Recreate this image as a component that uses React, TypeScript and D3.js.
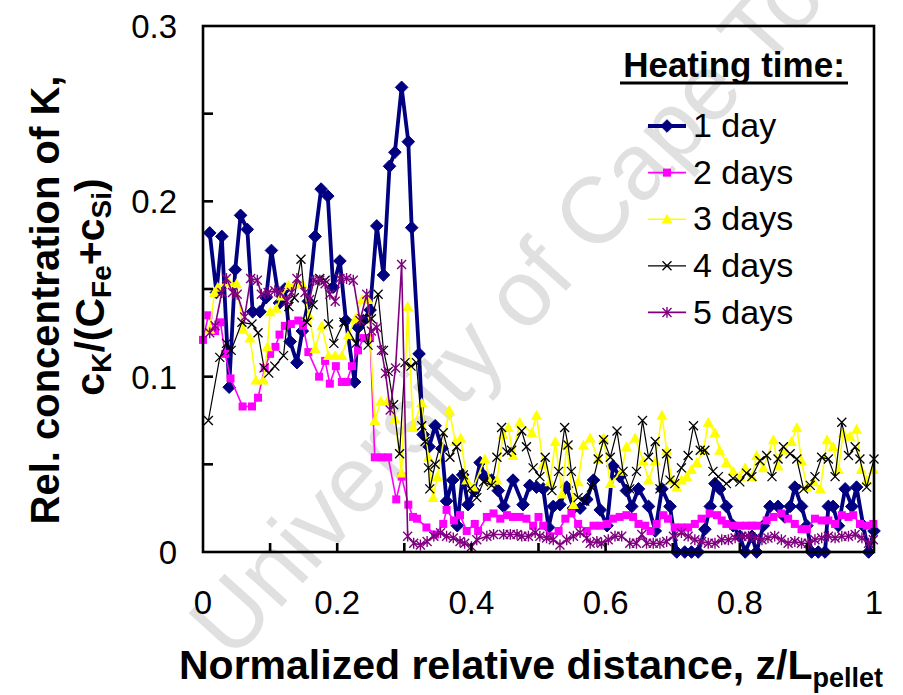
import React from 'react';
import * as d3 from 'd3';

const W = 903;
const H = 695;
const PLOT = { left: 203, right: 874, top: 26, bottom: 552 };

const seriesNames = ['1 day', '2 days', '3 days', '4 days', '5 days'];
const xTickValues = [0, 0.2, 0.4, 0.6, 0.8, 1];
const xTickLabels = ['0', '0.2', '0.4', '0.6', '0.8', '1'];
const xMinorTickValues = [0.1, 0.2, 0.3, 0.4, 0.5, 0.6, 0.7, 0.8, 0.9];
const yTickValues = [0, 0.1, 0.2, 0.3];
const yTickLabels = ['0', '0.1', '0.2', '0.3'];
const yMinorTickValues = [0.05, 0.1, 0.15, 0.2, 0.25];

// [normalized distance, relative concentration]
const day1: [number, number][] = [
  [0.010, 0.182], [0.020, 0.148], [0.028, 0.180], [0.039, 0.094], [0.048, 0.161], [0.056, 0.192],
  [0.066, 0.184], [0.074, 0.137], [0.085, 0.137], [0.094, 0.145], [0.102, 0.172], [0.114, 0.142],
  [0.122, 0.150], [0.130, 0.120], [0.140, 0.108], [0.148, 0.126], [0.157, 0.143], [0.167, 0.180],
  [0.176, 0.207], [0.186, 0.203], [0.194, 0.151], [0.204, 0.166], [0.213, 0.132], [0.226, 0.097],
  [0.231, 0.128], [0.239, 0.132], [0.249, 0.138], [0.259, 0.186], [0.269, 0.158], [0.278, 0.220],
  [0.286, 0.228], [0.296, 0.265], [0.306, 0.234], [0.311, 0.185], [0.322, 0.113], [0.328, 0.067],
  [0.337, 0.060], [0.346, 0.072], [0.356, 0.059], [0.363, 0.029], [0.372, 0.041], [0.379, 0.015],
  [0.387, 0.044], [0.395, 0.027], [0.404, 0.035], [0.413, 0.051], [0.420, 0.043], [0.430, 0.041],
  [0.440, 0.035], [0.448, 0.026], [0.462, 0.041], [0.477, 0.027], [0.487, 0.038], [0.497, 0.037],
  [0.507, 0.036], [0.515, 0.014], [0.522, 0.026], [0.532, 0.027], [0.542, 0.037], [0.552, 0.025],
  [0.562, 0.025], [0.572, 0.030], [0.582, 0.041], [0.592, 0.024], [0.602, 0.015], [0.611, 0.049],
  [0.621, 0.043], [0.631, 0.035], [0.639, 0.026], [0.649, 0.036], [0.664, 0.026], [0.674, 0.012],
  [0.684, 0.036], [0.696, 0.026], [0.706, 0.000], [0.718, 0.000], [0.728, 0.000], [0.738, 0.000],
  [0.748, 0.013], [0.756, 0.026], [0.763, 0.039], [0.770, 0.036], [0.780, 0.026], [0.790, 0.015],
  [0.800, 0.009], [0.808, 0.000], [0.818, 0.009], [0.825, 0.000], [0.835, 0.015], [0.845, 0.026],
  [0.857, 0.026], [0.867, 0.020], [0.875, 0.026], [0.882, 0.037], [0.892, 0.026], [0.900, 0.015],
  [0.907, 0.000], [0.917, 0.000], [0.927, 0.000], [0.932, 0.026], [0.939, 0.026], [0.947, 0.015],
  [0.957, 0.036], [0.967, 0.026], [0.974, 0.037], [0.984, 0.015], [0.992, 0.000], [1.000, 0.012],
];

const day2: [number, number][] = [
  [0.000, 0.121], [0.008, 0.135], [0.018, 0.126], [0.026, 0.131], [0.033, 0.113], [0.041, 0.099],
  [0.059, 0.083], [0.073, 0.083], [0.082, 0.088], [0.092, 0.105], [0.100, 0.113], [0.108, 0.117],
  [0.114, 0.124], [0.122, 0.129], [0.131, 0.130], [0.142, 0.132], [0.149, 0.129], [0.157, 0.114],
  [0.173, 0.100], [0.182, 0.109], [0.189, 0.096], [0.198, 0.106], [0.207, 0.097], [0.214, 0.097],
  [0.222, 0.106], [0.231, 0.115], [0.239, 0.122], [0.249, 0.122], [0.256, 0.054], [0.266, 0.054],
  [0.276, 0.054], [0.288, 0.030], [0.296, 0.043], [0.306, 0.027], [0.313, 0.020], [0.319, 0.019],
  [0.333, 0.014], [0.346, 0.010], [0.358, 0.016], [0.363, 0.024], [0.374, 0.018], [0.383, 0.021],
  [0.393, 0.012], [0.405, 0.016], [0.410, 0.012], [0.423, 0.020], [0.433, 0.022], [0.443, 0.019],
  [0.453, 0.021], [0.462, 0.020], [0.472, 0.020], [0.482, 0.019], [0.492, 0.015], [0.500, 0.020],
  [0.507, 0.015], [0.517, 0.009], [0.530, 0.012], [0.540, 0.019], [0.549, 0.022], [0.559, 0.016],
  [0.572, 0.012], [0.582, 0.015], [0.592, 0.015], [0.602, 0.016], [0.611, 0.019], [0.621, 0.020],
  [0.631, 0.021], [0.641, 0.020], [0.649, 0.016], [0.659, 0.015], [0.667, 0.012], [0.676, 0.016],
  [0.686, 0.021], [0.693, 0.019], [0.703, 0.014], [0.713, 0.014], [0.723, 0.014], [0.733, 0.016],
  [0.743, 0.019], [0.755, 0.022], [0.766, 0.021], [0.773, 0.018], [0.780, 0.016], [0.790, 0.015],
  [0.800, 0.015], [0.810, 0.015], [0.818, 0.015], [0.825, 0.015], [0.840, 0.018], [0.850, 0.020],
  [0.862, 0.022], [0.872, 0.019], [0.882, 0.016], [0.892, 0.013], [0.900, 0.013], [0.912, 0.019],
  [0.922, 0.018], [0.932, 0.018], [0.942, 0.016], [0.952, 0.021], [0.962, 0.020], [0.969, 0.021],
  [0.979, 0.016], [0.989, 0.015], [0.999, 0.016],
];

const day3: [number, number][] = [
  [0.010, 0.127], [0.017, 0.148], [0.022, 0.151], [0.038, 0.154], [0.050, 0.153], [0.060, 0.127],
  [0.070, 0.122], [0.079, 0.098], [0.090, 0.098], [0.096, 0.117], [0.100, 0.137], [0.109, 0.139],
  [0.117, 0.146], [0.127, 0.152], [0.138, 0.153], [0.148, 0.153], [0.158, 0.135], [0.167, 0.116],
  [0.177, 0.129], [0.187, 0.112], [0.197, 0.112], [0.207, 0.112], [0.217, 0.124], [0.227, 0.133],
  [0.237, 0.144], [0.246, 0.144], [0.256, 0.075], [0.265, 0.086], [0.275, 0.086], [0.286, 0.076],
  [0.296, 0.045], [0.305, 0.140], [0.313, 0.071], [0.326, 0.085], [0.336, 0.054], [0.343, 0.031],
  [0.349, 0.043], [0.367, 0.081], [0.376, 0.063], [0.384, 0.065], [0.393, 0.041], [0.403, 0.037],
  [0.420, 0.053], [0.428, 0.040], [0.438, 0.041], [0.447, 0.067], [0.455, 0.071], [0.462, 0.055],
  [0.472, 0.074], [0.490, 0.068], [0.497, 0.078], [0.507, 0.050], [0.517, 0.040], [0.525, 0.063],
  [0.535, 0.033], [0.542, 0.061], [0.552, 0.027], [0.559, 0.040], [0.567, 0.061], [0.577, 0.065],
  [0.589, 0.053], [0.597, 0.065], [0.607, 0.039], [0.624, 0.046], [0.631, 0.060], [0.644, 0.065],
  [0.656, 0.052], [0.664, 0.041], [0.674, 0.052], [0.684, 0.078], [0.691, 0.058], [0.699, 0.041],
  [0.706, 0.037], [0.713, 0.041], [0.721, 0.043], [0.728, 0.047], [0.736, 0.051], [0.746, 0.058],
  [0.753, 0.074], [0.763, 0.068], [0.770, 0.058], [0.780, 0.051], [0.790, 0.046], [0.800, 0.043],
  [0.808, 0.048], [0.818, 0.043], [0.825, 0.055], [0.835, 0.048], [0.850, 0.064], [0.857, 0.049],
  [0.865, 0.058], [0.877, 0.063], [0.885, 0.071], [0.892, 0.052], [0.900, 0.037], [0.910, 0.040],
  [0.920, 0.036], [0.930, 0.064], [0.939, 0.060], [0.947, 0.047], [0.954, 0.068], [0.964, 0.066],
  [0.974, 0.070], [0.981, 0.047], [0.989, 0.041], [0.999, 0.047],
];

const day4: [number, number][] = [
  [0.008, 0.075], [0.025, 0.111], [0.035, 0.119], [0.042, 0.115], [0.058, 0.131], [0.073, 0.130],
  [0.082, 0.125], [0.091, 0.105], [0.098, 0.102], [0.107, 0.106], [0.120, 0.112], [0.128, 0.140],
  [0.136, 0.145], [0.146, 0.167], [0.155, 0.131], [0.164, 0.141], [0.174, 0.156], [0.182, 0.155],
  [0.187, 0.130], [0.195, 0.119], [0.210, 0.131], [0.228, 0.119], [0.237, 0.133], [0.246, 0.118],
  [0.251, 0.133], [0.261, 0.147], [0.269, 0.115], [0.276, 0.103], [0.284, 0.084], [0.293, 0.056],
  [0.301, 0.108], [0.310, 0.106], [0.318, 0.108], [0.326, 0.072], [0.331, 0.063], [0.336, 0.048],
  [0.338, 0.036], [0.346, 0.050], [0.358, 0.068], [0.368, 0.054], [0.378, 0.060], [0.388, 0.044],
  [0.398, 0.036], [0.408, 0.031], [0.418, 0.040], [0.430, 0.038], [0.438, 0.054], [0.445, 0.071],
  [0.453, 0.057], [0.460, 0.058], [0.475, 0.069], [0.482, 0.060], [0.492, 0.048], [0.502, 0.043],
  [0.510, 0.054], [0.520, 0.035], [0.530, 0.046], [0.539, 0.071], [0.544, 0.061], [0.549, 0.046],
  [0.559, 0.031], [0.569, 0.029], [0.579, 0.037], [0.589, 0.053], [0.597, 0.064], [0.607, 0.054],
  [0.617, 0.069], [0.626, 0.046], [0.636, 0.036], [0.646, 0.046], [0.655, 0.075], [0.664, 0.054],
  [0.674, 0.063], [0.681, 0.036], [0.691, 0.056], [0.696, 0.041], [0.703, 0.039], [0.713, 0.048],
  [0.723, 0.055], [0.731, 0.072], [0.741, 0.058], [0.748, 0.058], [0.760, 0.046], [0.768, 0.043],
  [0.780, 0.039], [0.790, 0.042], [0.800, 0.040], [0.810, 0.045], [0.818, 0.043], [0.830, 0.052],
  [0.840, 0.055], [0.848, 0.043], [0.857, 0.053], [0.865, 0.060], [0.875, 0.056], [0.885, 0.053],
  [0.895, 0.036], [0.905, 0.038], [0.912, 0.043], [0.922, 0.054], [0.932, 0.053], [0.942, 0.043],
  [0.952, 0.074], [0.962, 0.055], [0.972, 0.060], [0.979, 0.053], [0.989, 0.037], [1.000, 0.053],
];

const day5: [number, number][] = [
  [0.010, 0.125], [0.018, 0.129], [0.028, 0.148], [0.035, 0.156], [0.044, 0.148], [0.051, 0.147],
  [0.062, 0.134], [0.071, 0.156], [0.081, 0.155], [0.087, 0.147], [0.097, 0.148], [0.107, 0.149],
  [0.115, 0.148], [0.125, 0.143], [0.132, 0.148], [0.140, 0.156], [0.152, 0.148], [0.159, 0.144],
  [0.165, 0.155], [0.174, 0.155], [0.182, 0.153], [0.189, 0.147], [0.197, 0.143], [0.204, 0.156],
  [0.214, 0.156], [0.224, 0.155], [0.234, 0.132], [0.244, 0.147], [0.251, 0.126], [0.259, 0.128],
  [0.266, 0.115], [0.272, 0.102], [0.279, 0.081], [0.287, 0.105], [0.296, 0.164], [0.305, 0.009],
  [0.314, 0.005], [0.324, 0.004], [0.334, 0.006], [0.344, 0.009], [0.354, 0.011], [0.363, 0.009],
  [0.373, 0.008], [0.383, 0.006], [0.390, 0.005], [0.400, 0.003], [0.408, 0.007], [0.423, 0.009],
  [0.433, 0.010], [0.448, 0.010], [0.458, 0.010], [0.468, 0.010], [0.475, 0.009], [0.485, 0.009],
  [0.495, 0.011], [0.502, 0.009], [0.512, 0.008], [0.522, 0.007], [0.532, 0.004], [0.542, 0.007],
  [0.552, 0.009], [0.562, 0.011], [0.572, 0.008], [0.577, 0.005], [0.587, 0.006], [0.594, 0.005],
  [0.604, 0.007], [0.614, 0.009], [0.624, 0.009], [0.636, 0.005], [0.646, 0.005], [0.654, 0.010],
  [0.661, 0.005], [0.671, 0.005], [0.681, 0.005], [0.691, 0.006], [0.701, 0.009], [0.713, 0.011],
  [0.723, 0.009], [0.733, 0.007], [0.743, 0.006], [0.753, 0.005], [0.763, 0.005], [0.773, 0.007],
  [0.783, 0.007], [0.793, 0.008], [0.803, 0.009], [0.813, 0.009], [0.823, 0.008], [0.833, 0.007],
  [0.842, 0.008], [0.852, 0.009], [0.862, 0.007], [0.872, 0.005], [0.882, 0.006], [0.892, 0.005],
  [0.902, 0.005], [0.912, 0.007], [0.922, 0.008], [0.932, 0.009], [0.942, 0.008], [0.952, 0.009],
  [0.962, 0.009], [0.972, 0.010], [0.982, 0.008], [0.992, 0.005], [0.999, 0.007],
];

const seriesData = [day1, day2, day3, day4, day5];
const seriesColors = ['#000080', '#FF00FF', '#FFFF00', '#000000', '#800080'];
const seriesLineWidths = [3.8, 1.6, 1.6, 1.2, 1.6];
const markerKinds = ['diamond', 'square', 'triangle', 'x', 'star'];

const FONT = 'Arial, "Liberation Sans", Helvetica, sans-serif';

function Marker({ kind, x, y, color }: { kind: string; x: number; y: number; color: string }) {
  if (kind === 'diamond') {
    const r = 6.3;
    return <path d={`M${x},${y - r}L${x + r},${y}L${x},${y + r}L${x - r},${y}Z`} fill={color} stroke={color} strokeWidth={1} />;
  }
  if (kind === 'square') {
    const s = 8;
    return <rect x={x - s / 2} y={y - s / 2} width={s} height={s} fill={color} />;
  }
  if (kind === 'triangle') {
    const r = 5.5;
    return <path d={`M${x},${y - r}L${x + r},${y + r * 0.8}L${x - r},${y + r * 0.8}Z`} fill={color} />;
  }
  if (kind === 'x') {
    const r = 4.5;
    return (
      <path d={`M${x - r},${y - r}L${x + r},${y + r}M${x - r},${y + r}L${x + r},${y - r}`} stroke={color} strokeWidth={1.3} fill="none" />
    );
  }
  const r = 4.5;
  return (
    <path
      d={`M${x - r},${y - r}L${x + r},${y + r}M${x - r},${y + r}L${x + r},${y - r}M${x},${y - r * 1.2}L${x},${y + r * 1.2}`}
      stroke={color}
      strokeWidth={1.4}
      fill="none"
    />
  );
}

export default function App() {
  const x = d3.scaleLinear().domain([0, 1]).range([PLOT.left, PLOT.right]);
  const y = d3.scaleLinear().domain([0, 0.3]).range([PLOT.bottom, PLOT.top]);
  const line = d3
    .line<[number, number]>()
    .x((d) => x(d[0]))
    .y((d) => y(d[1]));

  const legendX = 648;
  const legendY0 = 126;
  const legendStep = 46.6;

  return (
    <svg
      width={W}
      height={H}
      viewBox={`0 0 ${W} ${H}`}
      style={{ position: 'absolute', left: 0, top: 0, background: '#fff' }}
      fontFamily={FONT}
    >
      <rect x={0} y={0} width={W} height={H} fill="#fff" />
      {/* watermark */}
      <text
        x={0}
        y={0}
        transform={`translate(232,662) rotate(-48)`}
        fontSize={94}
        fill="#e0e0e0"
        fontFamily={FONT}
      >
        University of Cape Town
      </text>

      {/* series */}
      {seriesData.map((data, si) => (
        <g key={seriesNames[si]}>
          <path d={line(data) || ''} fill="none" stroke={seriesColors[si]} strokeWidth={seriesLineWidths[si]} strokeLinejoin="round" />
          {data.map((d, i) => (
            <Marker key={i} kind={markerKinds[si]} x={x(d[0])} y={y(d[1])} color={seriesColors[si]} />
          ))}
        </g>
      ))}

      {/* frame */}
      <rect x={PLOT.left} y={PLOT.top} width={PLOT.right - PLOT.left} height={PLOT.bottom - PLOT.top} fill="none" stroke="#000" strokeWidth={2.6} />
      {yMinorTickValues.map((t) => (
        <line key={'yt' + t} x1={PLOT.left} x2={PLOT.left + 10} y1={y(t)} y2={y(t)} stroke="#000" strokeWidth={2.6} />
      ))}
      {xMinorTickValues.map((t) => (
        <line key={'xt' + t} x1={x(t)} x2={x(t)} y1={PLOT.bottom} y2={PLOT.bottom - 9} stroke="#000" strokeWidth={2.6} />
      ))}

      {/* tick labels */}
      {yTickValues.map((t, i) => (
        <text key={'yl' + t} x={177} y={y(t)} dy="0.36em" textAnchor="end" fontSize={33} fill="#000">
          {yTickLabels[i]}
        </text>
      ))}
      {xTickValues.map((t, i) => (
        <text key={'xl' + t} x={x(t)} y={614} textAnchor="middle" fontSize={33} fill="#000">
          {xTickLabels[i]}
        </text>
      ))}

      {/* axis titles */}
      <text x={531} y={679} textAnchor="middle" fontSize={41} fontWeight="bold" fill="#000">
        Normalized relative distance, z/L
        <tspan fontSize={27} dy={8}>pellet</tspan>
      </text>
      <g transform="translate(59,300) rotate(-90)">
        <text x={0} y={0} textAnchor="middle" fontSize={40} fontWeight="bold" fill="#000">
          Rel. concentration of K,
        </text>
      </g>
      <g transform="translate(104,287) rotate(-90)">
        <text x={0} y={0} textAnchor="middle" fontSize={41} fontWeight="bold" fill="#000">
          c<tspan fontSize={28} dy={7}>K</tspan>
          <tspan dy={-7}>/(C</tspan>
          <tspan fontSize={28} dy={7}>Fe</tspan>
          <tspan dy={-7}>+c</tspan>
          <tspan fontSize={28} dy={7}>Si</tspan>
          <tspan dy={-7}>)</tspan>
        </text>
      </g>

      {/* legend */}
      <text x={734} y={77} textAnchor="middle" fontSize={35} fontWeight="bold" fill="#000">
        Heating time:
      </text>
      <line x1={620} x2={848} y1={83} y2={83} stroke="#000" strokeWidth={3} />
      {seriesNames.map((name, si) => {
        const ly = legendY0 + si * legendStep;
        return (
          <g key={'lg' + name}>
            <line x1={legendX} x2={legendX + 38} y1={ly} y2={ly} stroke={seriesColors[si]} strokeWidth={seriesLineWidths[si]} />
            <Marker kind={markerKinds[si]} x={legendX + 19} y={ly} color={seriesColors[si]} />
            <text x={693} y={ly} dy="0.33em" fontSize={34} fill="#000">
              {name}
            </text>
          </g>
        );
      })}
    </svg>
  );
}
